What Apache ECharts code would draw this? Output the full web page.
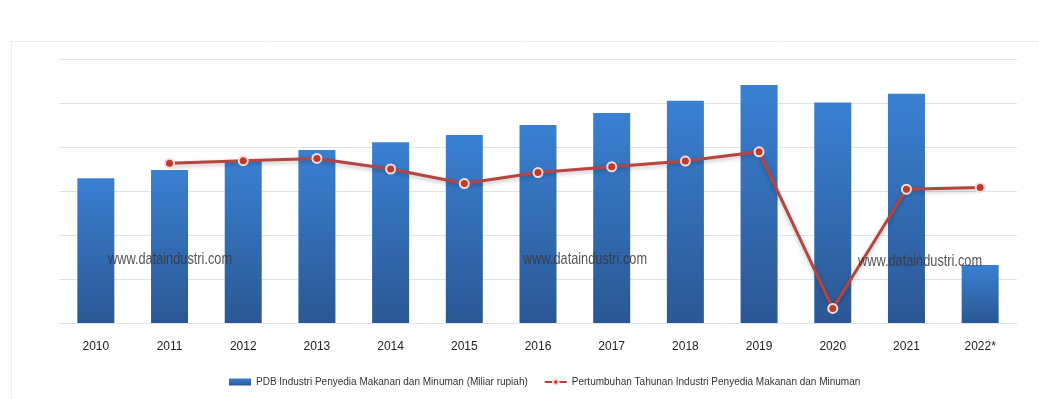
<!DOCTYPE html>
<html>
<head>
<meta charset="utf-8">
<script src="https://cdn.jsdelivr.net/npm/echarts@6/dist/echarts.min.js"></script>
<style>
html,body{margin:0;padding:0;background:#fff;}
#chart{width:1039px;height:399px;}
</style>
</head>
<body>
<div id="chart"></div>
<script>
const categories = ['2010','2011','2012','2013','2014','2015','2016','2017','2018','2019','2020','2021','2022*'];
const pdbValues = [329, 348, 370, 393, 411, 427, 450, 477, 505, 541, 501, 521, 132];
const growthValues = [null, 3.63, 3.69, 3.74, 3.50, 3.17, 3.42, 3.55, 3.68, 3.89, 0.33, 3.04, 3.08];
const barName = 'PDB Industri Penyedia Makanan dan Minuman (Miliar rupiah)';
const lineName = 'Pertumbuhan Tahunan Industri Penyedia Makanan dan Minuman';
const watermark = 'www.dataindustri.com';

const font = "'Liberation Sans', Arial, sans-serif";
const wmStyle = {text: watermark, font: "17px " + font, fill: 'rgba(55,55,55,0.85)'};
const chart = echarts.init(document.getElementById('chart'));
chart.setOption({
  animation: false,
  backgroundColor: '#fff',
  grid: {left: 59, right: 22, top: 59, bottom: 76},
  legend: {
    left: 224, top: 372, itemGap: 16, itemWidth: 22, itemHeight: 7,
    textStyle: {fontFamily: font, fontSize: 10, color: '#333'},
    data: [{name: barName, icon: 'rect'}, {name: lineName}]
  },
  xAxis: {
    type: 'category', data: categories,
    axisLine: {show: true, lineStyle: {color: '#dfe4ea', width: 1}},
    axisTick: {show: false},
    axisLabel: {fontFamily: font, fontSize: 12, color: '#222', margin: 18}
  },
  yAxis: [
    {type: 'value', min: 0, max: 600, interval: 100,
     axisLabel: {show: false}, axisLine: {show: false}, axisTick: {show: false},
     splitLine: {lineStyle: {color: '#dfe4ea', width: 1}}},
    {type: 'value', min: 0, max: 6, interval: 1,
     axisLabel: {show: false}, axisLine: {show: false}, axisTick: {show: false},
     splitLine: {show: false}}
  ],
  graphic: [
    {type: 'rect', left: 9, top: 39, shape: {width: 1040, height: 370},
     style: {fill: 'none', stroke: '#e9eef3', lineWidth: 1}, silent: true},
    {type: 'text', x: 108, y: 251, scaleX: 0.75, z: 100, style: wmStyle},
    {type: 'text', x: 523, y: 251, scaleX: 0.75, z: 100, style: wmStyle},
    {type: 'text', x: 858, y: 253, scaleX: 0.75, z: 100, style: wmStyle}
  ],
  series: [
    {
      name: barName, type: 'bar', data: pdbValues, barWidth: 37,
      itemStyle: {
        color: new echarts.graphic.LinearGradient(0, 0, 0, 1, [
          {offset: 0, color: '#3a80d2'},
          {offset: 1, color: '#2b5794'}
        ])
      }
    },
    {
      name: lineName, type: 'line', yAxisIndex: 1, data: growthValues,
      symbol: 'circle', symbolSize: 9,
      lineStyle: {color: '#b4453f', width: 3, shadowColor: 'rgba(0,0,0,0.25)', shadowBlur: 4, shadowOffsetY: 2},
      itemStyle: {color: '#c0392b', borderColor: '#f6dcdc', borderWidth: 2}
    }
  ]
});
</script>
</body>
</html>
